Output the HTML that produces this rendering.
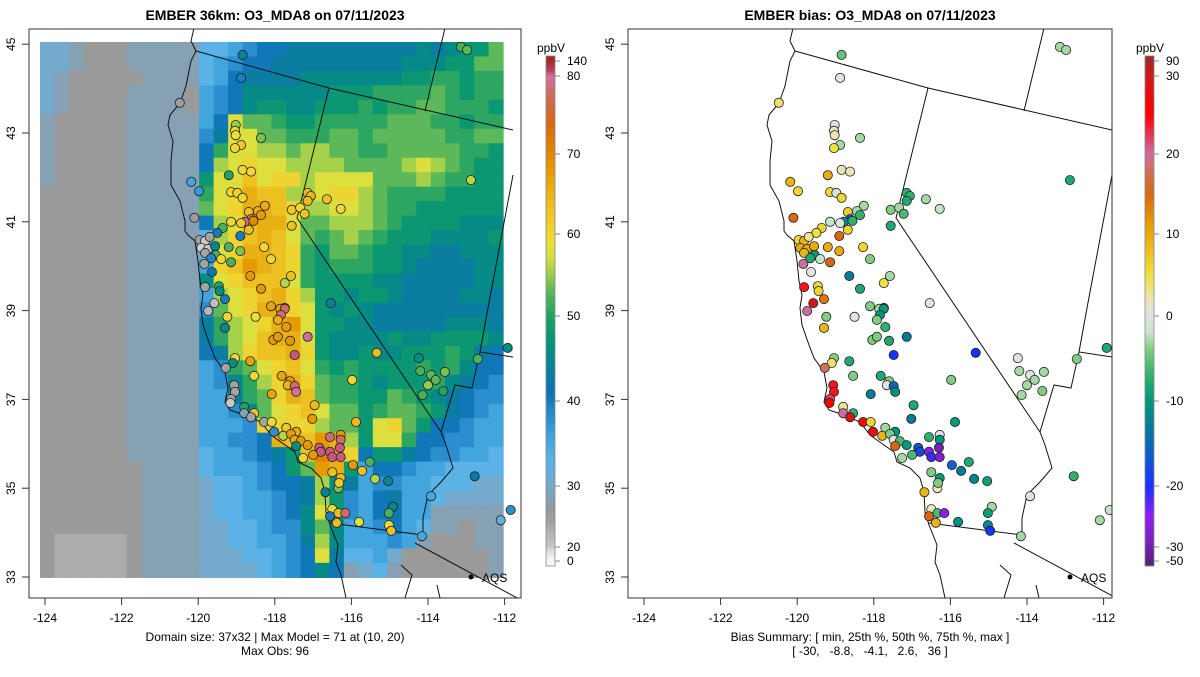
<!DOCTYPE html>
<html><head><meta charset="utf-8"><style>
html,body{margin:0;padding:0;background:#fff;}
svg text{font-family:"Liberation Sans",sans-serif;fill:#000;}
</style></head><body>
<svg id="fig" width="1200" height="672" viewBox="0 0 1200 672" xmlns="http://www.w3.org/2000/svg">
<defs>
<clipPath id="clipL"><rect x="29" y="29" width="492" height="569"/></clipPath>
<clipPath id="clipR"><rect x="628" y="29" width="484" height="569"/></clipPath>
</defs>
<text x="275" y="20" text-anchor="middle" font-size="14" font-weight="bold">EMBER 36km: O3_MDA8 on 07/11/2023</text>
<text x="870" y="20" text-anchor="middle" font-size="14" font-weight="bold">EMBER bias: O3_MDA8 on 07/11/2023</text>
<g id="left"></g>
<g id="right"></g>
<text x="275" y="641" text-anchor="middle" font-size="12">Domain size: 37x32 | Max Model = 71 at (10, 20)</text>
<text x="275" y="655" text-anchor="middle" font-size="12">Max Obs: 96</text>
<text x="870" y="641" text-anchor="middle" font-size="12">Bias Summary: [ min, 25th %, 50th %, 75th %, max ]</text>
<text x="870" y="655" text-anchor="middle" font-size="12" xml:space="preserve">[ -30,   -8.8,   -4.1,   2.6,   36 ]</text>
</svg>
<script>
// ---- data ----
const xTicks = [-124,-122,-120,-118,-116,-114,-112];
const yTicks = [33,35,37,39,41,43,45];
const modelTickValues = [0,20,30,40,50,60,70,80,140];
const biasTickValues = [-50,-30,-20,-10,0,10,20,30,90];
// model grid, 37 rows (north->south) x 32 cols; char level -> value 18 + 2.5*idx
const oceanRows = [
"ffedddeeeee","ffedddeeeee","fedddddeeee","feddddeeeed","feddddeeeed",
"edddddeeeee","edddddeeeee","edddddeeeee","edddddeeeee","edddddeeeee",
"ddddddeeeee","ddddddeeeee","ddddddeeeee","ddddddeeeee","ddddddeeeee","ddddddeeeee","ddddddeeeee","ddddddeeeee",
"ddddddeeeee","ddddddeeeee","ddddddeeeee","ddddddeeeee","ddddddeeeee","ddddddeeeee","ddddddeeeee","ddddddeeeee",
"ddddddeeeee","ddddddeeeee","ddddddeeeee","dddddddeeee","dddddddeeee","dddddddeeee","dddddddeeee","dddddddeeee",
"dcccccdeeee","dcccccdeeee","dcccccdeeee"];
const landRows = [
"gghijjkkkkkkkkklklmmo","ghijjkkkkkkkkklllmmoo","ghjkkkklllllllmmnnmnn","hijllllllmmmnnnnonmnn",
"hijlmmllmmmnmnnoonnnm","hjqoonmmnnnnnooonnmnn","ikqqoonnnoonooooonnoo","jnqqppoppoonnooooonnm",
"jpqrqqppppoooopqponmm","mqqsqrrpqqqqooopo"+"nnmm","nqrtssppqrrponnnnmmmm","oqrttsrppqqponnmmmmmm",
"jpqsttqooppponmmmmlll","gprstsqonoponmmmllllm","gqrttsrnmoonmmllkklll","hrsutsrnmnnnmmlkkkkll",
"lqrsssqnmmmmllkkkkkll","hpqrstrpmmlmmlkkkkllk","ioqrttrqmlmlkkkkkkkkk","knpqrtuqmmllkkkkklllk",
"knpqsttqmllllmllmmmml","jkprsstrmllmllmmmnmkj","hinoqrsqnmnmmmmnmnljj","hilnprtronnmlmmmnlkji",
"hhknortsonnmmonmlkjii","hhiloqrsqoomnoonmkjih","hhhirrrrpoomqromjjihh","hhiijtssutpmqqnjjiihh",
"ghhijkmsvtrjmmkjiihhg","ghhhijmoutmhjjihhgggg","fgghijjkplkhiihhgggff","fgghhijkpmihjkhhgffff",
"fgghhijlqmihjjhheeeee","ffgghiilolhhijhgeedee","ffgghhikplhhhihedddee","fffgghijqkgghfdddddde",
"ffffghijljefgedddddde"];
// monitoring sites
const siteLon = [-118.84,-118.88,-113.14,-112.98,-120.48,-119.02,-119.04,-119.02,-118.36,-118.88,-119.04,-112.88,-118.84,-118.62,-119.20,-120.18,-119.98,-119.14,-118.98,-118.84,
-117.14,-117.06,-117.14,-116.64,-116.28,-117.56,-117.34,-117.22,-117.56,-118.26,-118.44,-118.36,-118.68,-118.62,-118.78,-118.56,-119.14,-118.88,-118.68,-120.10,
-119.36,-119.50,-118.90,-119.96,-119.82,-119.70,-119.92,-119.74,-119.82,-119.56,-119.20,-118.90,-118.28,-119.54,-119.66,-119.40,-119.14,-119.84,-118.10,-119.64,
-118.64,-117.58,-117.74,-118.36,-119.46,-119.44,-119.82,-119.30,-119.58,-116.54,-118.10,-117.74,-119.74,-119.24,-118.50,-117.86,-117.74,-117.84,-117.92,-119.30,
-117.70,-117.14,-118.04,-117.92,-117.60,-117.48,-115.34,-119.04,-119.10,-118.64,-119.28,-118.54,-117.82,-117.60,-117.66,-117.48,-117.44,-115.98,-119.06,-119.04,
-119.14,-119.16,-118.08,-116.96,-114.24,-114.20,-113.56,-113.92,-113.80,-114.00,-113.60,-114.14,-112.70,-111.92,-118.80,-118.54,-118.80,-118.62,-117.02,-115.88,
-118.28,-118.08,-118.02,-117.70,-117.44,-117.78,-117.58,-117.48,-117.32,-117.44,-117.14,-116.56,-116.28,-116.28,-116.84,-116.80,-116.56,-116.30,-116.50,-116.28,
-117.00,-117.26,-115.96,-115.72,-115.52,-115.38,-115.04,-116.50,-116.28,-116.34,-116.32,-116.68,-112.78,-116.50,-116.34,-116.16,-116.56,-116.38,-115.80,-114.92,
-115.02,-115.02,-114.96,-113.92,-114.16,-112.10,-111.84];
const siteLat = [44.76,44.24,44.94,44.87,43.68,43.18,43.05,42.95,42.89,42.73,42.66,41.94,42.17,42.13,42.05,41.90,41.69,41.67,41.65,41.54,
41.65,41.58,41.47,41.51,41.29,41.27,41.32,41.18,40.91,41.36,41.24,41.15,41.22,41.06,41.00,41.02,41.00,40.97,40.82,41.09,
40.86,40.75,40.68,40.59,40.57,40.66,40.41,40.39,40.30,40.45,40.43,40.34,40.43,40.25,40.18,40.16,40.09,40.05,40.16,39.87,
39.78,39.78,39.62,39.49,39.55,39.44,39.53,39.26,39.17,39.17,39.10,39.06,38.99,38.86,38.86,39.04,39.04,38.90,38.79,38.61,
38.63,38.41,38.34,38.41,38.32,38.00,38.05,37.93,37.82,37.86,37.71,37.53,37.53,37.41,37.32,37.30,37.17,37.44,37.32,37.17,
37.01,36.92,37.12,36.87,37.93,37.64,37.62,37.55,37.44,37.32,37.19,37.10,37.91,38.16,36.83,36.69,36.69,36.60,36.56,36.49,
36.49,36.49,36.27,36.36,36.27,36.18,36.22,36.09,36.06,35.95,35.97,36.15,36.20,36.09,35.91,35.82,35.82,35.91,35.70,35.70,
35.75,35.68,35.52,35.39,35.59,35.21,35.16,35.36,35.23,35.00,35.12,34.91,35.27,34.53,34.44,34.44,34.37,34.22,34.24,34.58,
34.44,34.17,34.04,34.82,33.92,34.28,34.51];
const siteObs = [44,40,52,53,25,55,60,59,54,62,60,56,60,60,50,35,37,60,61,60,
64,65,64,63,60,62,60,63,63,66,66,68,63,78,82,70,60,62,63,25,
52,40,40,24,20,24,18,20,24,45,52,54,60,52,39,60,52,24,60,42,
68,63,56,68,50,46,24,40,21,44,67,78,22,60,59,67,78,78,66,45,
68,82,68,68,68,90,64,60,46,67,24,60,67,68,65,78,80,60,24,24,
24,20,67,64,46,52,54,53,53,55,50,52,52,46,50,62,28,24,68,64,
24,60,38,62,66,56,68,66,68,46,68,78,68,78,90,90,90,90,90,90,
68,60,68,63,52,56,45,63,64,54,62,44,42,58,64,78,40,64,58,45,
52,60,63,35,35,32,38];
const siteBias = [-5,0,-3,-3,4,0,2,2,-3,-3,5,-8,2,2,10,9,6,6,-1,6,
-7,-7,-8,-3,-2,-4,-3,-6,-8,-3,-3,-7,7,-18,-11,-7,-2,0,6,15,
6,5,15,6,9,3,10,10,9,10,10,10,6,-10,-8,-2,15,20,-4,0,
-13,-3,5,-8,6,6,24,14,30,0,-4,-8,20,-4,0,-3,-10,-10,-4,9,
-7,-13,-4,-4,-8,-20,-20,-4,4,-8,18,-4,-8,-4,0,-15,-11,-4,24,24,
22,25,-13,-8,0,-3,-3,0,-3,-3,-4,-3,-4,-8,3,-7,20,28,-13,-10,
28,6,26,-3,-10,9,-4,0,-6,15,-10,-7,0,-10,-17,-18,-26,-30,-21,-28,
-6,-3,-16,-13,-8,-12,-9,-4,-10,2,-4,9,-7,2,-6,-26,15,9,-11,-3,
-9,-12,-20,0,-3,-3,-2];

// ---- scales ----
const X = u => 45 + (u + 124) * 38.3;
const Y = v => 577 - (v - 33) * 44.4;
const OFF = 599;
const tickPix = [561,547,486,401,316,234,154,76,61];
const gridLon0 = -124.13, gridLat0 = 45.05, dLon = 0.3778, dLat = 0.3259;

function hex(h){return [parseInt(h.slice(1,3),16),parseInt(h.slice(3,5),16),parseInt(h.slice(5,7),16)];}
function ramp(stops,v){
  if(v<=stops[0][0]) return stops[0][1];
  for(let i=1;i<stops.length;i++){
    if(v<=stops[i][0]){
      const t=(v-stops[i-1][0])/(stops[i][0]-stops[i-1][0]);
      const a=hex(stops[i-1][1]),b=hex(stops[i][1]);
      return 'rgb('+a.map((x,k)=>Math.round(x+(b[k]-x)*t)).join(',')+')';
    }
  }
  return stops[stops.length-1][1];
}
const modelStops=[[0,'#f7f7f7'],[15,'#dcdcdc'],[20,'#c8c8c8'],[24,'#a3a3a3'],[26,'#979797'],[28,'#86a0b4'],[30,'#78a8c8'],[33,'#5ab2e6'],[36,'#3ea2dc'],[39,'#2286c8'],[41,'#0a72b4'],[44,'#0a8296'],[47,'#00927a'],[50,'#22a262'],[53,'#5cb858'],[55,'#98cc4c'],[57,'#cede42'],[59,'#ecdf3a'],[62,'#f0c828'],[65,'#eab418'],[68,'#e69a00'],[71,'#e08000'],[74,'#d86818'],[77,'#d06a50'],[80,'#d070a0'],[100,'#c04060'],[140,'#a02828']];
const biasStops=[[-50,'#5a2080'],[-30,'#7a20b0'],[-25,'#9020f0'],[-20,'#1a30ff'],[-16,'#1060c8'],[-13,'#007c98'],[-10,'#00987a'],[-7,'#30b070'],[-4,'#80cc80'],[-2,'#c8e4c8'],[0,'#e2e2e2'],[2,'#ece4b8'],[5,'#f0e040'],[8,'#ecc020'],[11,'#e8a000'],[15,'#d86810'],[18,'#d07060'],[20,'#c870a0'],[22,'#e04060'],[25,'#ff0000'],[30,'#d01818'],[90,'#a02828']];
const levelVal = ch => 18 + 2.5 * (ch.charCodeAt(0) - 97);

const NS='http://www.w3.org/2000/svg';
function mk(tag,attrs,parent){const e=document.createElementNS(NS,tag);for(const k in attrs)e.setAttribute(k,attrs[k]);parent.appendChild(e);return e;}

// geography outlines (pixel, left panel)
const coast=[[194,28],[191,41],[196,51],[191,61],[186,86],[180,103],[170,115],[168,125],[173,141],[171,161],[171,185],[180,201],[185,221],[185,231],[188,235],[195,241],[198,261],[200,281],[203,295],[201,308],[203,325],[210,345],[215,358],[225,372],[228,388],[225,402],[230,410],[245,415],[261,422],[271,435],[285,445],[295,452],[298,462],[311,468],[321,478],[325,492],[326,512],[330,525],[338,545],[336,562],[341,575],[346,598]];
const borders=[
 [[196,51],[329,88],[513,130]],
 [[445,28],[425,111]],
 [[329,88],[297,218],[441,432]],
 [[513,175],[488,308],[480,352],[513,357]],
 [[480,352],[472,388],[455,385],[441,432],[446,445],[453,468],[441,482],[428,495],[423,518],[423,535]],
 [[330,523],[423,535]],
 [[415,543],[521,600]],
 [[401,565],[412,575],[405,598]],
 [[437,585],[440,598]]
];

function panel(g,off,clip,isBias){
  const cg=mk('g',{'clip-path':'url(#'+clip+')'},g);
  if(!isBias){
    const hg=mk('g',{},cg);
    
    
    for(let r=0;r<37;r++){
      const row=oceanRows[r]+landRows[r];
      for(let c=0;c<32;c++){
        const u0=gridLon0+c*dLon, v0=gridLat0-r*dLat;
        const x0=X(u0),x1=X(u0+dLon),y0=Y(v0),y1=Y(v0-dLat);
        const cell=mk('rect',{x:x0.toFixed(2),y:y0.toFixed(2),width:(x1-x0+0.6).toFixed(2),height:(y1-y0+0.6).toFixed(2),fill:ramp(modelStops,levelVal(row[c]))},hg);
        
        
      }
    }
  }
  const pts=a=>a.map(p=>(p[0]+off)+','+p[1]).join(' ');
  const cl=mk('polyline',{points:pts(coast),fill:'none',stroke:'#111','stroke-width':1},cg);
  
  
  borders.forEach(b=>{
    const l=mk('polyline',{points:pts(b),fill:'none',stroke:'#111','stroke-width':1},cg);
    
    
  });
  for(let i=0;i<siteLon.length;i++){
    const v=isBias?siteBias[i]:siteObs[i];
    const c=mk('circle',{cx:(X(siteLon[i])+off).toFixed(1),cy:Y(siteLat[i]).toFixed(1),r:4.6,fill:ramp(isBias?biasStops:modelStops,v),stroke:'#222','stroke-width':0.8},cg);
    
    
  }
  const dot=mk('circle',{cx:471+off,cy:577,r:2.5,fill:'#000'},cg);
  
  
  const aq=mk('text',{x:482+off,y:582,'font-size':12},g);
  aq.textContent='AQS';
  
  
  const bx=mk('rect',{x:29+off,y:29,width:isBias?484:492,height:569,fill:'none',stroke:'#333','stroke-width':1},g);
  
  
  xTicks.forEach(t=>{
    const x=X(t)+off;
    mk('line',{x1:x,x2:x,y1:598,y2:605,stroke:'#333'},g);
    const tx=mk('text',{x:x,y:622,'text-anchor':'middle','font-size':12},g);
    tx.textContent=t;
    
    
  });
  yTicks.forEach(t=>{
    const y=Y(t);
    mk('line',{x1:22+off,x2:29+off,y1:y,y2:y,stroke:'#333'},g);
    const tx=mk('text',{x:15+off,y:y,'text-anchor':'middle','font-size':12,transform:'rotate(-90 '+(15+off)+' '+y+')'},g);
    tx.textContent=t;
    
    
  });
  const cbx=546+off;
  const vals=isBias?biasTickValues:modelTickValues;
  const cb=mk('g',{},g);
  
  
  for(let y=56;y<566;y+=2){
    const yc=y+1;
    let v;
    if(yc>=tickPix[0]) v=vals[0];
    else if(yc<=tickPix[8]) v=vals[8];
    else { for(let i=1;i<9;i++){ if(yc>=tickPix[i]){ const t=(tickPix[i-1]-yc)/(tickPix[i-1]-tickPix[i]); v=vals[i-1]+t*(vals[i]-vals[i-1]); break; } } }
    mk('rect',{x:cbx,y:y,width:9,height:2.3,fill:ramp(isBias?biasStops:modelStops,v)},cb);
  }
  mk('rect',{x:cbx,y:56,width:9,height:510,fill:'none',stroke:'#888','stroke-width':0.8},cb);
  vals.forEach((t,i)=>{
    mk('line',{x1:cbx+9,x2:cbx+14,y1:tickPix[i],y2:tickPix[i],stroke:'#888'},cb);
    const tx=mk('text',{x:cbx+21,y:tickPix[i]+4,'font-size':12},cb);
    tx.textContent=t;
    
    
  });
  const un=mk('text',{x:cbx+5,y:52,'text-anchor':'middle','font-size':12},cb);
  un.textContent='ppbV';
  
  
}
panel(document.getElementById('left'),0,'clipL',false);
panel(document.getElementById('right'),OFF,'clipR',true);
</script>
</body></html>
